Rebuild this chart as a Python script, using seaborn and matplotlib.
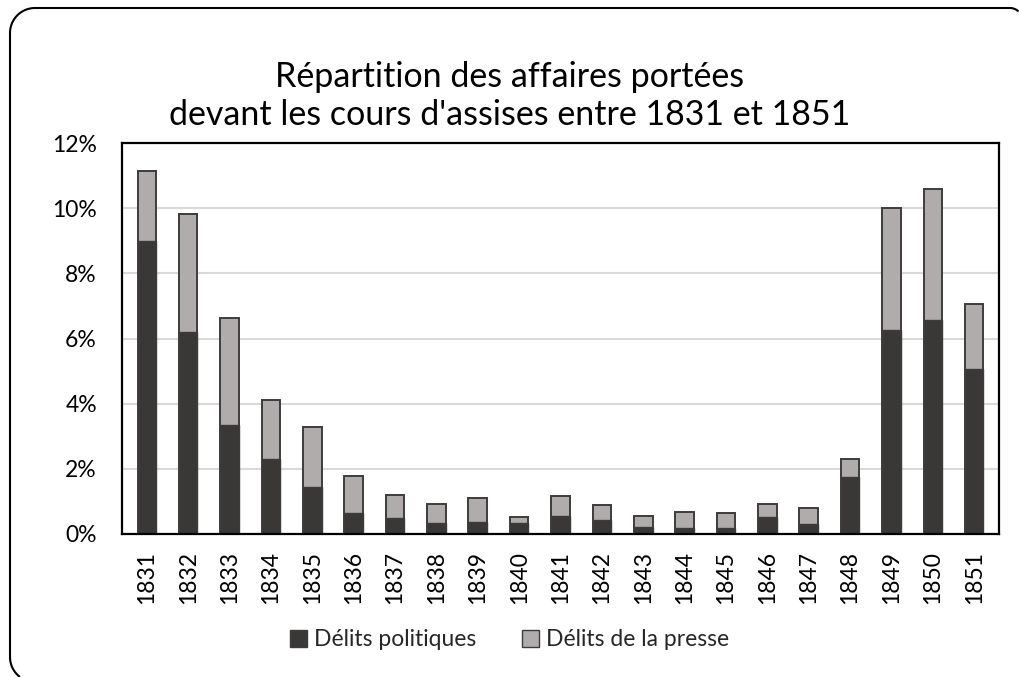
import matplotlib
matplotlib.use("Agg")
import matplotlib.pyplot as plt
from matplotlib.lines import Line2D
from matplotlib.patches import Patch
from matplotlib.ticker import FuncFormatter
import seaborn as sns
import pandas as pd
import numpy as np

# Share of cases before the cours d'assises (percent)
years = [str(y) for y in range(1831, 1852)]
politiques = [8.99, 6.20, 3.33, 2.29, 1.44, 0.65, 0.49, 0.35, 0.38, 0.33, 0.56,
              0.42, 0.21, 0.17, 0.17, 0.52, 0.31, 1.74, 6.25, 6.57, 5.07]
totaux = [11.13, 9.82, 6.64, 4.11, 3.29, 1.79, 1.21, 0.93, 1.09, 0.53, 1.17,
          0.89, 0.54, 0.66, 0.65, 0.92, 0.81, 2.29, 9.99, 10.59, 7.06]
presse = [round(t - p, 2) for t, p in zip(totaux, politiques)]

titre = "Répartition des affaires portées\ndevant les cours d'assises entre 1831 et 1851"
lbl_pol = "Délits politiques"
lbl_presse = "Délits de la presse"

df = pd.DataFrame({"annee": years, "politiques": politiques,
                   "total": [p + q for p, q in zip(politiques, presse)]})

sns.set_theme(style="white")
plt.rcParams["font.family"] = ["Lato", "DejaVu Sans"]

dark = "#3a3836"
light = "#b0acab"
edge = "#3c3c3c"

W, H = 1019, 677
fig = plt.figure(figsize=(W / 100, H / 100), dpi=100)


def arc(cx, cy, r, a0, a1, n=30):
    t = np.radians(np.linspace(a0, a1, n))
    return cx + r * np.cos(t), cy + r * np.sin(t)


# rounded outer frame, pixel coordinates measured from the top-left corner
r = 25
segs_x, segs_y = [], []
x, y = arc(10 + r, 682 - r, r, 90 + 90, 90 + 90 - 53)  # bottom-left corner (cut by edge)
segs_x.append(x[::-1]); segs_y.append(y[::-1])
x, y = arc(10 + r, 8 + r, r, 180, 270)  # top-left corner
segs_x.append(x); segs_y.append(y)
x, y = arc(1010, 8 + 12, 12, 270, 315)  # top-right corner (cut by edge)
segs_x.append(x); segs_y.append(y)
fx = np.concatenate(segs_x)
fy = np.concatenate(segs_y)
fig.add_artist(Line2D(fx, H - fy, transform=None, color="black",
                      linewidth=1.5, solid_capstyle="butt"))

ax = fig.add_axes([122 / W, (H - 534) / H, (999 - 122) / W, (534 - 143) / H])

sns.barplot(data=df, x="annee", y="total", color=light, saturation=1,
            width=0.45, edgecolor=edge, linewidth=1.4, ax=ax)
sns.barplot(data=df, x="annee", y="politiques", color=dark, saturation=1,
            width=0.45, edgecolor=edge, linewidth=1.0, ax=ax)

ax.set_ylim(0, 12)
ax.set_yticks(range(0, 13, 2))
ax.yaxis.set_major_formatter(FuncFormatter(lambda v, _: f"{v:.0f}%"))
ax.set_xlim(-0.6, len(years) - 0.4)
ax.set_xlabel("")
ax.set_ylabel("")
ax.grid(axis="y", color="#d9d9d9", linewidth=1.5)
ax.set_axisbelow(True)
for s in ax.spines.values():
    s.set_visible(True)
    s.set_color("black")
    s.set_linewidth(1.6)
ax.tick_params(axis="y", length=0, pad=18, labelsize=16.5, labelcolor="black")
ax.tick_params(axis="x", length=0, pad=12, labelsize=16.5, labelcolor="black",
               labelrotation=90)

fig.text(0.5, 1 - 96 / H, titre, ha="center", va="center", fontsize=24.5,
         linespacing=1.2, color="black")

handles = [Patch(facecolor=dark, edgecolor=edge, label=lbl_pol),
           Patch(facecolor=light, edgecolor=edge, label=lbl_presse)]
fig.legend(handles=handles, loc="center", bbox_to_anchor=(0.5, 1 - 640 / H),
           ncol=2, frameon=False, fontsize=16.5, handlelength=0.75,
           handleheight=0.75, handletextpad=0.3, columnspacing=2.0)

fig.savefig("out.png", dpi=100)
